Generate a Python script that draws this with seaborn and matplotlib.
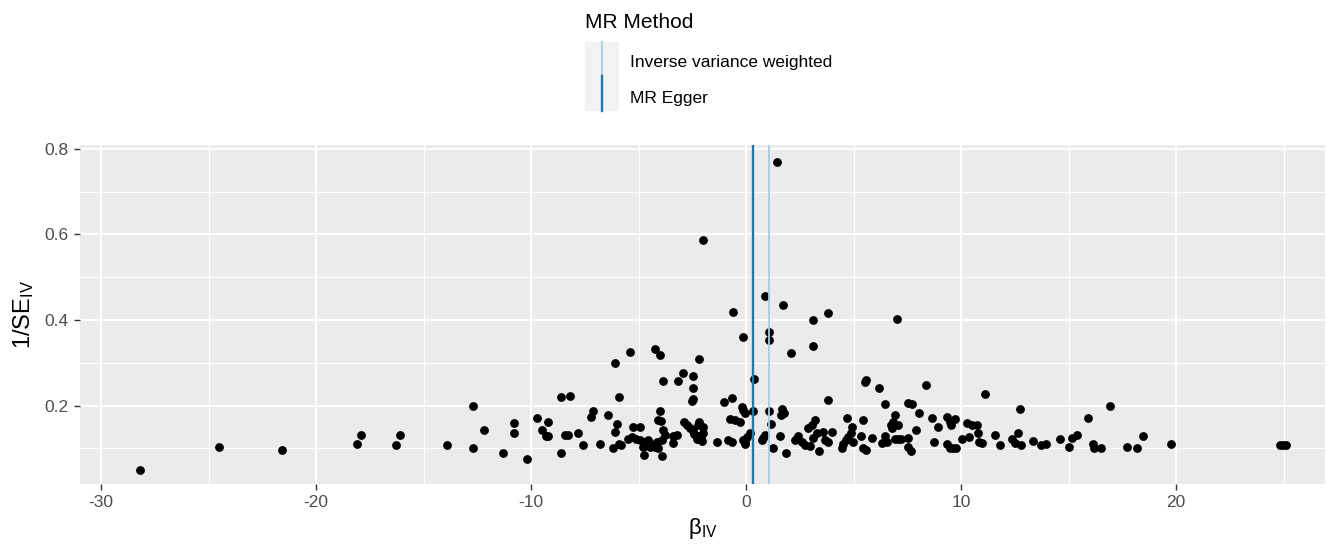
import numpy as np
import pandas as pd
import matplotlib
matplotlib.use("Agg")
import matplotlib.pyplot as plt
import seaborn as sns
from matplotlib.lines import Line2D
from matplotlib.patches import Rectangle

# SNP-level estimates, grouped by beta range
beta_far_left = [-28.2, -24.5, -21.6, -18.1, -17.9, -16.3, -16.1, -13.9,
                 -12.7, -12.2, -12.7, -11.3, -10.8, -10.8, -10.2, -9.7, -9.5, -9.3,
                 -9.2, -9.2, -8.6, -8.2, -8.6, -8.4, -8.3, -7.8, -7.6, -7.2, -7.1,
                 -6.8, -6.4, -6.1, -5.9, -5.4, -6.0, -6.1, -6.2, -5.9, -5.8]
inv_se_far_left = [0.050, 0.104, 0.096, 0.110, 0.131, 0.107, 0.131, 0.107,
                   0.199, 0.142, 0.100, 0.089, 0.160, 0.135, 0.075, 0.171, 0.142, 0.130,
                   0.128, 0.163, 0.220, 0.223, 0.089, 0.132, 0.132, 0.135, 0.107, 0.174, 0.188,
                   0.110, 0.178, 0.300, 0.220, 0.325, 0.157, 0.139, 0.100, 0.110, 0.109]

beta_mid_left = [-5.24, -4.93, -5.47, -5.32, -5.12, -4.93, -4.70, -4.54, -4.78, -4.47,
                 -4.23, -4.74, -4.15, -3.92, -3.89, -4.0, -4.08, -3.97, -3.85, -3.77,
                 -4.23, -4.0, -3.85, -4.4, -4.1,
                 -3.38, -3.41, -3.22, -2.91, -3.15, -2.45, -2.45, -2.45, -2.5, -2.17,
                 -2.0, -2.9, -2.75, -2.6, -2.45, -2.4, -2.25, -2.17, -2.1, -2.0,
                 -2.17, -2.25, -2.0, -2.05, -2.3]
inv_se_mid_left = [0.150, 0.150, 0.121, 0.126, 0.121, 0.120, 0.116, 0.120, 0.104, 0.104,
                   0.104, 0.085, 0.116, 0.120, 0.082, 0.188, 0.167, 0.164, 0.143, 0.131,
                   0.332, 0.318, 0.258, 0.110, 0.100,
                   0.128, 0.112, 0.131, 0.276, 0.258, 0.270, 0.241, 0.215, 0.210, 0.309,
                   0.586, 0.163, 0.156, 0.148, 0.140, 0.133, 0.129, 0.121, 0.125, 0.136,
                   0.162, 0.155, 0.150, 0.118, 0.122]

beta_centre = [-1.36, -1.02, -0.67, -0.6, -0.82, -0.67, -0.74, -0.51, -0.28, -0.2,
               -0.12, -0.05, -0.12, -0.12, -0.05, 0.03, -0.05, 0.2,
               0.31, 0.37, 0.88, 1.08, 1.08, 1.08, 1.15, 1.44, 0.88, 0.81, 0.74,
               1.27, 1.58, 1.66, 1.77, 1.63, 1.84, 1.72, 2.1]
inv_se_centre = [0.116, 0.209, 0.217, 0.420, 0.120, 0.116, 0.169, 0.167, 0.163, 0.198,
                 0.190, 0.184, 0.360, 0.120, 0.115, 0.127, 0.110, 0.135,
                 0.188, 0.262, 0.456, 0.372, 0.353, 0.188, 0.157, 0.769, 0.131, 0.124, 0.120,
                 0.100, 0.128, 0.192, 0.182, 0.178, 0.089, 0.435, 0.322]

beta_mid_right = [2.28, 2.43, 2.59, 2.74, 2.98, 2.9, 3.05, 3.21, 3.13, 3.29, 3.41, 3.6,
                  3.67, 3.83, 3.99, 3.13, 3.1, 3.83, 3.83, 4.45, 4.53, 4.65, 4.76, 4.87,
                  4.91, 4.68, 4.99,
                  5.43, 5.35, 5.46, 5.58, 5.85, 5.53, 5.58, 6.19, 6.48, 6.31, 6.47, 6.54,
                  6.74, 6.78, 6.85, 7.08, 6.93, 6.93, 7.08, 7.2, 7.04, 7.52, 7.55, 7.67,
                  7.55, 7.7, 7.89, 8.06, 8.37, 8.67, 8.74, 8.94]
inv_se_mid_right = [0.120, 0.128, 0.114, 0.108, 0.106, 0.147, 0.155, 0.167, 0.124, 0.135, 0.093, 0.139,
                    0.120, 0.116, 0.139, 0.400, 0.340, 0.417, 0.213, 0.100, 0.110, 0.120, 0.126, 0.135,
                    0.150, 0.171, 0.116,
                    0.167, 0.128, 0.100, 0.097, 0.125, 0.256, 0.260, 0.241, 0.203, 0.112, 0.128, 0.116,
                    0.155, 0.147, 0.163, 0.154, 0.178, 0.122, 0.122, 0.122, 0.403, 0.124, 0.104, 0.093,
                    0.206, 0.205, 0.142, 0.182, 0.249, 0.171, 0.116, 0.150]

beta_far_right = [9.36, 9.49, 9.71, 9.55, 9.33, 9.49, 9.64, 9.77, 10.06, 10.39, 10.29, 10.5,
                  10.74, 10.78, 10.84, 10.97, 11.12, 11.6, 11.83, 12.37, 12.5, 12.66, 12.8,
                  12.73, 13.36, 13.7, 13.93, 14.6, 15.02, 15.14, 15.4, 15.89, 16.16, 16.2,
                  16.5, 16.93, 17.7, 18.2, 18.47, 19.75, 24.84, 24.98, 25.1]
inv_se_far_right = [0.174, 0.163, 0.169, 0.155, 0.110, 0.102, 0.102, 0.102, 0.121, 0.126, 0.160, 0.155,
                    0.156, 0.135, 0.116, 0.112, 0.227, 0.132, 0.107, 0.121, 0.113, 0.135, 0.107,
                    0.192, 0.117, 0.107, 0.110, 0.121, 0.104, 0.124, 0.132, 0.171, 0.110, 0.100,
                    0.100, 0.199, 0.104, 0.100, 0.128, 0.110, 0.107, 0.107, 0.107]

# MR estimates (vertical lines)
methods = ["Inverse variance weighted", "MR Egger"]
method_b = [1.08, 0.31]
method_colors = ["#a6cee3", "#1f78b4"]
method_lw = [1.3, 1.7]

df = pd.DataFrame({
    "b": beta_far_left + beta_mid_left + beta_centre + beta_mid_right + beta_far_right,
    "inv_se": inv_se_far_left + inv_se_mid_left + inv_se_centre + inv_se_mid_right + inv_se_far_right,
})

plt.rcParams["font.family"] = ["Liberation Sans", "DejaVu Sans"]
plt.rcParams["mathtext.fontset"] = "custom"
plt.rcParams["mathtext.rm"] = "Liberation Sans"
plt.rcParams["mathtext.it"] = "Liberation Sans"

W, H = 1332, 544
fig = plt.figure(figsize=(W / 100, H / 100), dpi=100)
ax = fig.add_axes([80 / W, 1 - 484 / H, (1325 - 80) / W, (484 - 145) / H])
ax.set_facecolor("#ebebeb")

sns.scatterplot(data=df, x="b", y="inv_se", color="black", s=40, linewidth=0, ax=ax, zorder=3)

for b, c, lw in zip(method_b, method_colors, method_lw):
    ax.axvline(b, color=c, lw=lw, zorder=4)

ax.set_xlim(-30.98, 26.93)
ax.set_ylim(0.017, 0.809)
ax.set_xticks([-30, -20, -10, 0, 10, 20])
ax.set_xticks([-25, -15, -5, 5, 15, 25], minor=True)
ax.set_yticks([0.2, 0.4, 0.6, 0.8])
ax.set_yticks([0.1, 0.3, 0.5, 0.7], minor=True)
ax.grid(which="major", color="white", lw=1.4, zorder=0)
ax.grid(which="minor", color="white", lw=0.8, zorder=0)
ax.set_axisbelow(True)
for s in ax.spines.values():
    s.set_visible(False)
ax.tick_params(which="major", length=4, width=1, color="#333333", labelcolor="#4d4d4d",
               labelsize=12.5, pad=4)
ax.tick_params(which="minor", length=0)
ax.set_xticklabels(["-30", "-20", "-10", "0", "10", "20"])
ax.set_yticklabels(["0.2", "0.4", "0.6", "0.8"])

ax.set_xlabel(r"$\mathrm{β}_{\mathrm{IV}}$", fontsize=16, labelpad=4)
ax.set_ylabel(r"$1/\mathrm{SE}_{\mathrm{IV}}$", fontsize=17, labelpad=6)

# legend drawn at the top like ggplot
fig.text(585 / W, 1 - 22 / H, "MR Method", fontsize=15, va="center", ha="left")
fig.patches.append(Rectangle((585 / W, 1 - 111 / H), 34 / W, 69 / H,
                             transform=fig.transFigure, facecolor="#f2f2f2", edgecolor="none"))
fig.add_artist(Line2D([602 / W, 602 / W], [1 - 42 / H, 1 - 76 / H], color=method_colors[0], lw=method_lw[0]))
fig.add_artist(Line2D([602 / W, 602 / W], [1 - 76 / H, 1 - 111 / H], color=method_colors[1], lw=method_lw[1]))
fig.text(630 / W, 1 - 63 / H, methods[0], fontsize=12.5, va="center", ha="left")
fig.text(630 / W, 1 - 98 / H, methods[1], fontsize=12.5, va="center", ha="left")

fig.savefig("out.png", dpi=100, facecolor="white")
